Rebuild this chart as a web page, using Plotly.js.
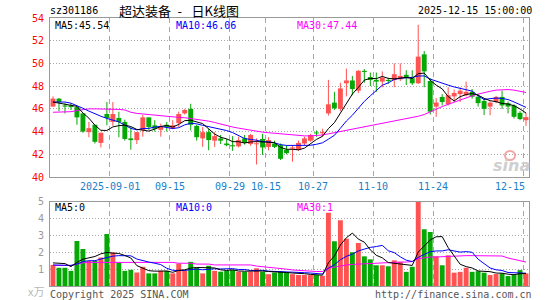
<!DOCTYPE html>
<html><head><meta charset="utf-8">
<script src="https://cdn.plot.ly/plotly-3.0.1.min.js"></script>
<style>html,body{margin:0;padding:0;background:#fff;}#c{width:545px;height:300px;}</style>
</head><body><div id="c"></div>
<script>
// ---- data ----
const tickIdx  = [10, 20, 30, 36, 44, 54, 64, 79];
const tickText = ['2025-09-01','09-15','09-29','10-15','10-27','11-10','11-24','12-15'];
const priceTicks = [40,42,44,46,48,50,52,54];
const volTicks = [1,2,3,4,5];

const open = [46.2,46.9,46.3,46.3,46.15,45.6,43.95,44.6,43.0,45.55,
44.85,45.2,44.85,43.4,43.25,44.15,45.25,44.55,44.15,44.6,
44.25,44.75,45.6,46.0,44.5,43.4,43.95,43.2,43.4,42.95,
42.8,42.7,43.4,42.9,42.9,43.35,42.65,42.95,42.8,42.4,
42.5,42.4,42.95,43.2,43.9,43.85,45.6,46.55,46.0,48.25,
48.5,47.6,49.35,48.8,48.55,48.4,48.55,48.55,48.6,49.0,
48.7,48.25,50.8,48.45,46.2,47.05,46.4,47.1,47.3,47.2,
47.5,47.07,46.7,46.2,46.6,47.05,46.5,46.3,45.65,45.0];
const high = [47.1,46.95,46.5,46.5,46.3,45.6,44.85,44.6,43.9,46.6,
46.6,45.75,45.05,44.4,43.95,45.45,45.25,45.0,44.7,44.85,
45.0,45.75,46.0,46.45,44.6,44.4,44.25,43.95,43.7,43.35,
43.6,43.55,43.7,43.8,43.4,43.8,43.5,43.2,42.95,42.8,
42.75,43.2,43.55,43.8,44.1,44.25,48.55,47.5,48.3,49.55,
48.9,49.4,49.5,49.2,49.2,49.3,48.75,50.0,50.0,49.4,
49.4,53.4,51.1,48.7,46.95,47.3,47.9,47.7,47.9,48.4,
47.75,47.3,46.9,46.66,47.15,47.6,46.65,46.4,45.8,45.65];
const low = [46.2,45.8,45.6,45.9,44.6,43.9,43.5,42.95,42.6,44.55,
44.5,43.5,43.2,42.4,42.9,43.55,44.15,44.0,43.55,44.0,
44.2,44.4,45.5,44.1,43.2,42.65,42.35,42.65,42.9,42.7,
42.3,42.6,42.85,42.75,41.1,41.95,42.35,42.55,41.5,42.0,
41.35,42.3,42.75,43.1,43.55,43.55,45.4,45.9,45.8,47.1,
47.2,47.4,48.3,48.0,47.5,47.9,48.2,47.9,48.45,48.1,
48.1,48.2,47.9,45.5,45.3,46.3,46.3,46.6,46.6,47.1,
46.9,46.2,45.45,45.44,46.5,46.0,45.6,45.15,45.0,44.5];
const close = [46.9,46.6,46.2,46.15,45.25,44.0,44.3,43.1,43.9,45.2,
45.55,44.85,43.35,43.25,43.95,45.25,44.4,44.25,44.4,44.4,
44.55,45.55,45.9,44.6,43.5,43.95,43.25,43.6,43.2,42.8,
42.7,43.25,43.0,43.7,42.95,42.6,43.25,42.65,41.6,42.1,
42.6,43.0,43.4,43.7,43.85,43.95,46.4,46.05,47.8,48.5,
47.75,49.35,49.25,48.55,48.4,48.75,48.45,49.05,48.9,48.7,
48.25,50.6,49.3,45.75,46.55,46.6,47.2,47.4,47.6,47.5,
47.07,46.5,46.0,46.55,47.05,46.3,46.2,45.3,45.1,45.27];
const ma5 = [46.6,46.5,46.4,46.3,46.22,45.64,45.18,44.56,44.11,44.10,
44.41,44.52,44.57,44.44,44.19,44.13,44.04,44.22,44.45,44.54,
44.40,44.63,44.96,45.0,44.82,44.70,44.24,43.78,43.5,43.36,
43.11,43.11,42.99,43.09,43.12,43.1,43.1,43.03,42.61,42.44,
42.44,42.39,42.54,42.96,43.31,43.58,44.26,44.79,45.61,46.54,
47.3,47.89,48.53,48.68,48.66,48.86,48.68,48.64,48.71,48.77,
48.67,49.1,49.15,48.52,48.09,47.76,47.08,46.7,47.07,47.26,
47.35,47.21,46.93,46.72,46.63,46.48,46.42,46.28,45.99,45.63];
const ma10 = [46.6,46.6,46.6,46.5,46.3,46.05,45.8,45.55,45.35,45.16,
45.03,44.85,44.57,44.28,44.15,44.27,44.28,44.40,44.45,44.37,
44.27,44.34,44.59,44.73,44.68,44.55,44.44,44.37,44.25,44.09,
43.91,43.68,43.39,43.30,43.24,43.11,43.11,43.01,42.85,42.78,
42.77,42.75,42.79,42.79,42.88,43.01,43.33,43.67,44.29,44.93,
45.44,46.08,46.66,47.15,47.6,48.08,48.29,48.59,48.70,48.72,
48.77,48.89,48.9,48.62,48.43,48.22,48.09,47.93,47.8,47.68,
47.56,47.15,46.82,46.9,46.95,46.92,46.82,46.61,46.36,46.13];
const ma30 = [45.7,45.7,45.7,45.75,45.85,45.95,46.0,46.0,46.0,46.0,
45.98,45.95,45.9,45.7,45.6,45.55,45.5,45.4,45.35,45.3,
45.27,45.25,45.22,45.15,45.05,45.0,44.92,44.8,44.65,44.5,
44.4,44.3,44.2,44.1,44.0,43.95,43.9,43.85,43.78,43.72,
43.67,43.65,43.62,43.62,43.65,43.7,43.8,43.9,44.0,44.1,
44.2,44.3,44.4,44.5,44.6,44.7,44.8,44.9,45.0,45.1,
45.2,45.35,45.5,45.75,46.0,46.2,46.4,46.6,46.8,47.0,
47.15,47.3,47.45,47.55,47.65,47.7,47.7,47.65,47.55,47.44];
const volume = [1.25,1.08,1.08,0.9,2.67,2.2,1.49,1.49,1.69,3.08,
1.98,1.39,0.9,0.96,0.8,1.14,0.75,0.75,0.9,0.9,
0.75,1.33,0.9,1.43,1.08,0.75,1.2,0.9,0.85,0.9,
0.95,0.85,0.85,0.85,1.05,0.85,0.7,0.8,0.85,0.8,
0.7,0.65,0.65,0.65,0.65,0.6,4.35,2.65,3.9,2.8,
2.0,2.55,1.76,1.58,1.23,1.23,1.17,1.52,1.43,0.84,
1.14,5.1,3.37,3.21,1.76,1.23,1.82,0.79,0.84,1.08,
0.84,0.88,0.79,0.65,0.71,0.75,0.59,0.65,0.94,0.75];
const volMa5 = [1.37,1.35,1.33,1.15,1.40,1.59,1.67,1.75,1.91,1.99,
1.95,1.93,1.81,1.66,1.21,1.04,0.91,0.88,0.87,0.89,
0.81,0.93,0.96,1.06,1.10,1.10,1.07,1.07,0.96,0.92,
0.96,0.89,0.88,0.88,0.91,0.89,0.86,0.85,0.85,0.80,
0.77,0.76,0.73,0.69,0.66,0.64,1.38,1.78,2.43,2.86,
3.14,2.78,2.60,2.14,1.82,1.67,1.39,1.35,1.32,1.24,
1.22,2.01,2.38,2.73,2.92,2.93,2.28,1.76,1.29,1.15,
1.07,0.89,0.89,0.85,0.77,0.76,0.70,0.67,0.73,0.74];
const volMa10 = [1.25,1.25,1.25,1.22,1.3,1.45,1.5,1.5,1.6,1.70,
1.77,1.80,1.78,1.79,1.60,1.50,1.42,1.35,1.27,1.05,
0.93,0.92,0.92,0.97,1.0,0.96,1.0,1.02,1.01,1.01,
1.03,0.98,0.98,0.92,0.92,0.93,0.88,0.87,0.87,0.86,
0.83,0.81,0.79,0.77,0.73,0.71,1.07,1.26,1.56,1.76,
1.89,2.08,2.19,2.29,2.34,2.41,2.09,1.98,1.73,1.53,
1.45,1.70,1.87,2.03,2.08,2.08,2.15,2.07,2.01,2.04,
2.0,1.59,1.33,1.07,0.96,0.92,0.80,0.78,0.79,0.76];
const volMa30 = [1.22,1.22,1.22,1.22,1.3,1.38,1.4,1.4,1.4,1.4,
1.42,1.42,1.42,1.42,1.42,1.4,1.4,1.4,1.4,1.4,
1.4,1.35,1.35,1.35,1.3,1.3,1.3,1.25,1.25,1.25,
1.25,1.25,1.25,1.25,1.18,1.15,1.12,1.1,1.05,1.0,
0.95,0.92,0.9,0.88,0.86,0.86,1.05,1.12,1.2,1.25,
1.28,1.3,1.32,1.35,1.37,1.38,1.4,1.4,1.42,1.42,
1.45,1.62,1.68,1.72,1.72,1.74,1.78,1.8,1.8,1.8,
1.8,1.8,1.8,1.8,1.8,1.78,1.66,1.6,1.5,1.42];

// ---- styling ----
const RED = '#ff5252', GREEN = '#06a806';
const MONO = 'DejaVu Sans Mono';
const idx = close.map((_, i) => i);
const up = close.map((c, i) => c >= open[i]);
const colors = up.map(u => u ? RED : GREEN);

const bodyBase = [], bodyLen = [];
close.forEach((c, i) => {
  const lo = Math.min(c, open[i]), hi = Math.max(c, open[i]);
  const minH = 0.09;
  if (hi - lo < minH) { const m = (hi + lo) / 2; bodyBase.push(m - minH / 2); bodyLen.push(minH); }
  else { bodyBase.push(lo); bodyLen.push(hi - lo); }
});
function wicks(flag) {
  const x = [], y = [];
  idx.forEach(i => { if (up[i] === flag) { x.push(i, i, null); y.push(low[i], high[i], null); } });
  return {x, y};
}
const wu = wicks(true), wd = wicks(false);

const traces = [
  {type:'scatter', mode:'lines', x:wu.x, y:wu.y, line:{color:RED, width:1}, hoverinfo:'skip', xaxis:'x', yaxis:'y'},
  {type:'scatter', mode:'lines', x:wd.x, y:wd.y, line:{color:GREEN, width:1}, hoverinfo:'skip', xaxis:'x', yaxis:'y'},
  {type:'bar', x:idx, y:bodyLen, base:bodyBase, width:0.82, marker:{color:colors, line:{width:0}}, hoverinfo:'skip', xaxis:'x', yaxis:'y'},
  {type:'scatter', mode:'lines', x:idx, y:ma30, line:{color:'#ff00ff', width:1}, hoverinfo:'skip', xaxis:'x', yaxis:'y'},
  {type:'scatter', mode:'lines', x:idx, y:ma10, line:{color:'#0000ff', width:1}, hoverinfo:'skip', xaxis:'x', yaxis:'y'},
  {type:'scatter', mode:'lines', x:idx, y:ma5, line:{color:'#000000', width:1}, hoverinfo:'skip', xaxis:'x', yaxis:'y'},
  {type:'bar', x:idx, y:volume, width:0.82, marker:{color:colors, line:{width:0}}, hoverinfo:'skip', xaxis:'x2', yaxis:'y2'},
  {type:'scatter', mode:'lines', x:idx, y:volMa30, line:{color:'#ff00ff', width:1}, hoverinfo:'skip', xaxis:'x2', yaxis:'y2'},
  {type:'scatter', mode:'lines', x:idx, y:volMa10, line:{color:'#0000ff', width:1}, hoverinfo:'skip', xaxis:'x2', yaxis:'y2'},
  {type:'scatter', mode:'lines', x:idx, y:volMa5, line:{color:'#000000', width:1}, hoverinfo:'skip', xaxis:'x2', yaxis:'y2'}
];

const L = 50, R = 16, T = 18, B = 14, W = 545, H = 300;
const px = X => (X - L) / (W - L - R);
const py = Y => (H - B - Y) / (H - T - B);
function ann(text, X, Y, xanchor, color, size, family) {
  return {text, x:px(X), y:py(Y), xref:'paper', yref:'paper', xanchor, yanchor:'middle',
    showarrow:false, font:{family:family || MONO, size:size || 10, color}, borderpad:0};
}
// date labels under the price panel, centred on the date grid lines (last one kept inside the frame)
const dateAnns = tickIdx.map((t, k) => {
  const last = k === tickIdx.length - 1;
  return {text:tickText[k], x: last ? t : t - 0.5, xref:'x', y:py(186.5), yref:'paper',
    xanchor: last ? 'right' : 'center', yanchor:'middle', showarrow:false, borderpad:0,
    font:{family:MONO, size:10, color:'#1a80c8'}};
});
const annotations = dateAnns.concat([
  ann('sz301186', 49, 11, 'left', '#000'),
  ann('2025-12-15 15:00:00', 533, 11, 'right', '#000'),
  ann('MA5:45.54', 54, 25, 'left', '#000'),
  ann('MA10:46.06', 175, 25, 'left', '#0000ff'),
  ann('MA30:47.44', 295.5, 25, 'left', '#ff00ff'),
  ann('MA5:0', 54, 207.5, 'left', '#000'),
  ann('MA10:0', 175, 207.5, 'left', '#0000ff'),
  ann('MA30:1', 295.5, 207.5, 'left', '#ff00ff'),
  ann('x万', 45, 291, 'right', '#b8b8b8', 11, 'Noto Sans CJK SC'),
  ann('Copyright 2025 SINA.COM', 49, 294, 'left', '#555'),
  ann('http://finance.sina.com.cn', 533, 294, 'right', '#555'),
  ann('<b><i>sina</i></b>', 511, 165, 'center', '#cfcfcf', 16, 'DejaVu Sans')
]);
const shapes = [
  {type:'circle', xref:'paper', yref:'paper', x0:px(505), x1:px(515), y0:py(160), y1:py(151),
   line:{color:'#f3a6a6', width:2}, fillcolor:'rgba(0,0,0,0)', layer:'below'}
];

const gridCol = '#a8a8a8', frameCol = '#9a9a9a';
const layout = {
  width:W, height:H, margin:{l:L, r:R, t:T, b:B, pad:0},
  paper_bgcolor:'#fff', plot_bgcolor:'#fff', showlegend:false, barmode:'overlay',
  title:{text:'超达装备\u2002-\u2002\u00a0日K线图', x:179/545, xanchor:'center', xref:'container', y:1-11/300, yanchor:'middle', yref:'container',
    font:{family:'Noto Sans CJK SC', size:13, color:'#000'}},
  xaxis:{domain:[0,1], range:[-0.5,79.5], anchor:'y', tickvals:tickIdx.map(i => i - 0.5), showticklabels:false,
    showgrid:true, gridcolor:gridCol, griddash:'5px,4px', gridwidth:1, zeroline:false,
    showline:true, mirror:true, linecolor:frameCol, linewidth:1, ticks:'', fixedrange:true},
  yaxis:{domain:[(286-177)/268, 1], range:[40,54], tickvals:priceTicks, ticktext:priceTicks.map(String),
    showgrid:true, gridcolor:gridCol, griddash:'1px,2px', gridwidth:1, zeroline:false,
    showline:true, mirror:true, linecolor:frameCol, linewidth:1, ticks:'', ticklabelstandoff:3,
    tickfont:{family:MONO, size:10, color:'#ff0000'}, fixedrange:true},
  xaxis2:{domain:[0,1], range:[-0.5,79.5], anchor:'y2', tickvals:tickIdx.map(i => i - 0.5), showticklabels:false,
    showgrid:true, gridcolor:gridCol, griddash:'5px,4px', gridwidth:1, zeroline:false,
    showline:true, mirror:true, linecolor:frameCol, linewidth:1, ticks:'', fixedrange:true},
  yaxis2:{domain:[0, (286-201.7)/268], range:[0,5], tickvals:volTicks, ticktext:volTicks.map(String),
    showgrid:true, gridcolor:gridCol, griddash:'1px,2px', gridwidth:1, zeroline:false,
    showline:true, mirror:true, linecolor:frameCol, linewidth:1, ticks:'', ticklabelstandoff:3,
    tickfont:{family:MONO, size:10, color:'#999'}, fixedrange:true},
  annotations, shapes
};
Plotly.newPlot('c', traces, layout, {staticPlot:true, displayModeBar:false});
</script>
</body></html>
